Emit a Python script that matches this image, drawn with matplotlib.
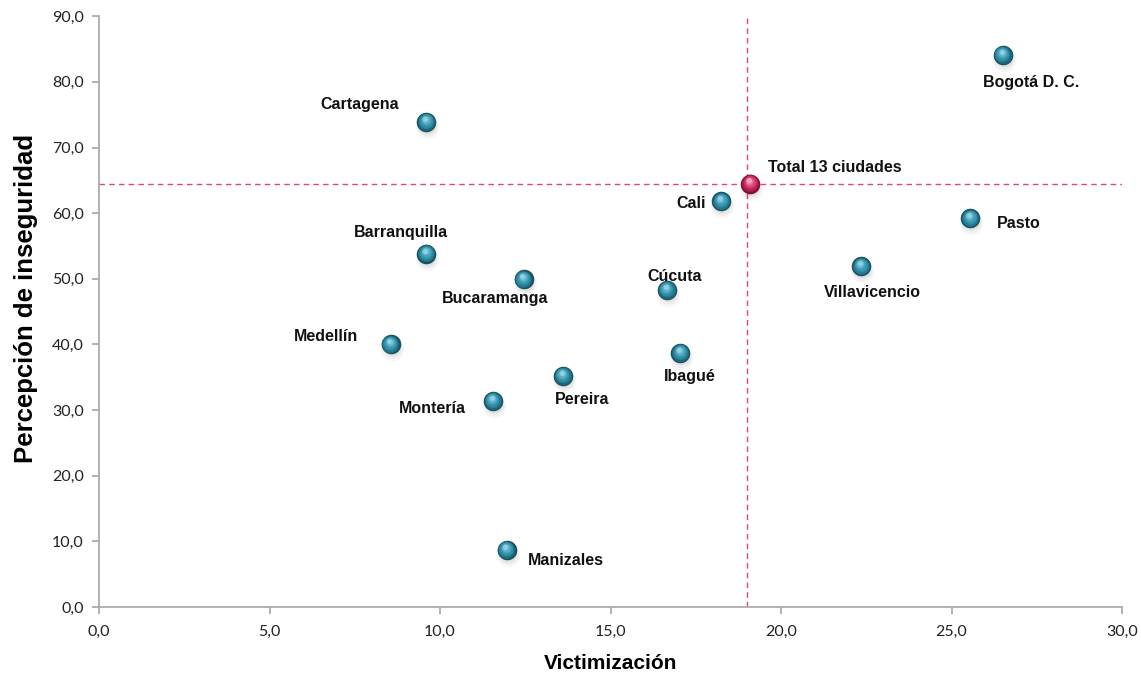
import matplotlib
matplotlib.use("Agg")
import matplotlib.pyplot as plt
import matplotlib.transforms as mtransforms
from matplotlib.ticker import FuncFormatter

cities = ["Bogotá D. C.", "Cartagena", "Cali", "Pasto", "Barranquilla", "Bucaramanga",
          "Cúcuta", "Villavicencio", "Medellín", "Ibagué", "Pereira", "Montería", "Manizales"]
victimizacion = [26.5, 9.6, 18.25, 25.55, 9.6, 12.45, 16.65, 22.35, 8.55, 17.05, 13.6, 11.55, 11.95]
percepcion = [84.1, 73.9, 61.8, 59.2, 53.8, 49.9, 48.3, 51.9, 40.0, 38.7, 35.2, 31.4, 8.7]

total_label = "Total 13 ciudades"
total_x = 19.1
total_y = 64.5

xticks = [0, 5, 10, 15, 20, 25, 30]
yticks = [0, 10, 20, 30, 40, 50, 60, 70, 80, 90]

# label placement: (dx px, dy px, ha)
label_pos = {
    "Bogotá D. C.": (28, -28, "center"),
    "Cartagena": (-27, 17, "right"),
    "Cali": (-16, -2, "right"),
    "Pasto": (27, -5, "left"),
    "Barranquilla": (-25, 21, "center"),
    "Bucaramanga": (-28, -19, "center"),
    "Cúcuta": (8, 13, "center"),
    "Villavicencio": (11, -26, "center"),
    "Medellín": (-32, 8, "right"),
    "Ibagué": (9, -24, "center"),
    "Pereira": (19, -24, "center"),
    "Montería": (-27, -8, "right"),
    "Manizales": (21, -11, "left"),
}

fig = plt.figure(figsize=(11.41, 6.76), dpi=100)
ax = fig.add_axes([0.0868, 0.102, 0.8966, 0.874])

ax.set_xlim(0, 30)
ax.set_ylim(0, 90)

line_col = "#E0467C"
ax.axhline(total_y, color=line_col, lw=1.0, dashes=(4, 3), zorder=1)
ax.axvline(total_x - 0.1, color=line_col, lw=1.0, dashes=(4, 3), zorder=1)


def sphere(xs, ys, colors):
    # soft shadow
    for s, a, dy in [(280, 0.03, -5), (220, 0.04, -4), (160, 0.05, -3)]:
        sh = mtransforms.offset_copy(ax.transData, fig=fig, x=1, y=dy, units="dots")
        ax.scatter(xs, ys, s=s, color="#000000", alpha=a, lw=0, transform=sh, zorder=2)
    n = len(colors)
    for i, c in enumerate(colors):
        frac = i / max(n - 1, 1)
        s = 190 * (1 - 0.85 * frac) ** 2 + 8
        up = 3.2 * frac
        tr = mtransforms.offset_copy(ax.transData, fig=fig, x=-1.2 * frac, y=up, units="dots")
        ax.scatter(xs, ys, s=s, color=c, lw=0, transform=tr, zorder=3 + i * 0.01)


teal = ["#17505F", "#1E6577", "#267A8F", "#2E8BA3", "#3796B0", "#45A2BC", "#58AEC6", "#72BCD1", "#92CEDD"]
pink = ["#7E0F36", "#9A1645", "#B31E53", "#C6285F", "#D2356B", "#DA4879", "#E2608C", "#EA7FA3", "#F2A2BD"]
sphere(victimizacion, percepcion, teal)
sphere([total_x], [total_y], pink)

lab_font = dict(family=["Liberation Sans", "DejaVu Sans"], fontsize=11.5, fontweight="bold", color="#111111")
for name, x, y in zip(cities, victimizacion, percepcion):
    dx, dy, ha = label_pos[name]
    ax.annotate(name, (x, y), xytext=(dx, dy), textcoords="offset pixels",
                ha=ha, va="center", zorder=5, **lab_font)
ax.annotate(total_label, (total_x, total_y), xytext=(18, 16), textcoords="offset pixels",
            ha="left", va="center", zorder=5, **lab_font)

fmt = FuncFormatter(lambda v, p: f"{v:.1f}".replace(".", ","))
ax.set_xticks(xticks)
ax.set_yticks(yticks)
ax.xaxis.set_major_formatter(fmt)
ax.yaxis.set_major_formatter(fmt)

for side in ["top", "right"]:
    ax.spines[side].set_visible(False)
for side in ["left", "bottom"]:
    ax.spines[side].set_color("#A6A6A6")
    ax.spines[side].set_linewidth(1.2)
ax.tick_params(axis="both", colors="#A6A6A6", length=5, width=1.2, direction="out",
               labelcolor="#222222", labelsize=11.5)
for lbl in ax.get_xticklabels() + ax.get_yticklabels():
    lbl.set_family(["Lato", "DejaVu Sans"])
ax.tick_params(axis="x", pad=8)
ax.tick_params(axis="y", pad=6)

ax.set_xlabel("Victimización", family=["Liberation Sans", "DejaVu Sans"], fontsize=15,
              fontweight="bold", labelpad=11)
ax.set_ylabel("Percepción de inseguridad", family=["Liberation Sans", "DejaVu Sans"], fontsize=18.5,
              fontweight="bold", labelpad=10, y=0.523)

fig.savefig("out.png", dpi=100)
